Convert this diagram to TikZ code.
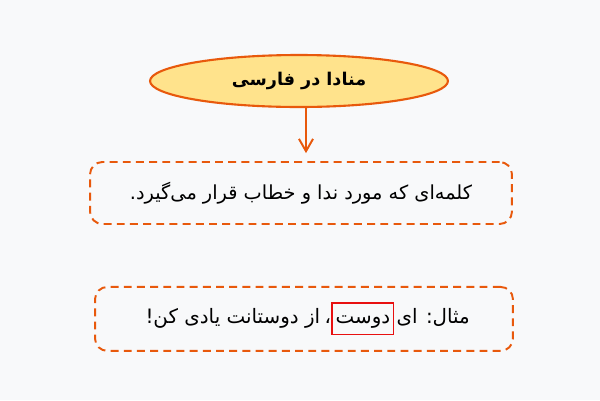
\documentclass[tikz,border=0pt]{standalone}
\usepackage{fontspec}
\setmainfont{DejaVu Sans}
\newfontfamily\farsi[Script=Arabic]{DejaVu Sans}
\TeXXeTstate=1
\usetikzlibrary{arrows.meta,positioning,shapes.geometric}
\definecolor{paper}{HTML}{F8F9FA}
\definecolor{edgeorange}{HTML}{E8590C}
\definecolor{topicyellow}{HTML}{FFE38C}
\definecolor{markred}{HTML}{E81010}
\tikzstyle{topic}=[draw=edgeorange,fill=topicyellow,ellipse,line width=1.2pt,minimum width=5.96cm,minimum height=1.04cm,inner sep=0pt,font=\farsi\bfseries\fontsize{10}{12}\selectfont]
\tikzstyle{note}=[draw=edgeorange,rounded corners=7pt,line width=1.1pt,dash pattern=on 4.5pt off 3pt,inner sep=0pt,font=\farsi\fontsize{11}{13}\selectfont]
\tikzstyle{piece}=[inner xsep=1pt,inner ysep=0pt,text height=8pt,text depth=3pt,font=\farsi\fontsize{11.3}{13}\selectfont]
\tikzstyle{wordmark}=[piece,draw=markred,line width=0.8pt,inner xsep=2pt,inner ysep=3.5pt]

\begin{document}
\begin{tikzpicture}[x=0.02cm,y=-0.02cm,node distance=1.06cm]
    \useasboundingbox[fill=paper] (0,0) rectangle (600,400);
    \node [topic] (title) at (299,81) {\beginR منادا در فارسی\endR};
    \node [note,minimum width=8.44cm,minimum height=1.24cm,below=of title,xshift=0.04cm] (meaning)
      {\beginR کلمه^^^^200cای که مورد ندا و خطاب قرار می^^^^200cگیرد.\endR};
    \node [note,minimum width=8.36cm,minimum height=1.28cm,below=1.22cm of meaning,xshift=0.06cm] (sample) {};
    \node [wordmark] (word) at ([xshift=1.18cm]sample.center) {\beginR دوست\endR};
    \node [piece,right=0pt of word] (lead) {\beginR مثال: ای\endR};
    \node [piece,inner xsep=0pt,left=0pt of word] (rest) {\beginR ،\hspace{-1pt} از دوستانت یادی کن!\endR};
    \draw [edgeorange,line width=1.1pt,shorten >=4.5pt,-{Straight Barb[length=7pt,width=8pt]}]
      ([xshift=0.14cm]title.south) -- ([xshift=0.14cm]title.south |- meaning.north);
\end{tikzpicture}
\end{document}
